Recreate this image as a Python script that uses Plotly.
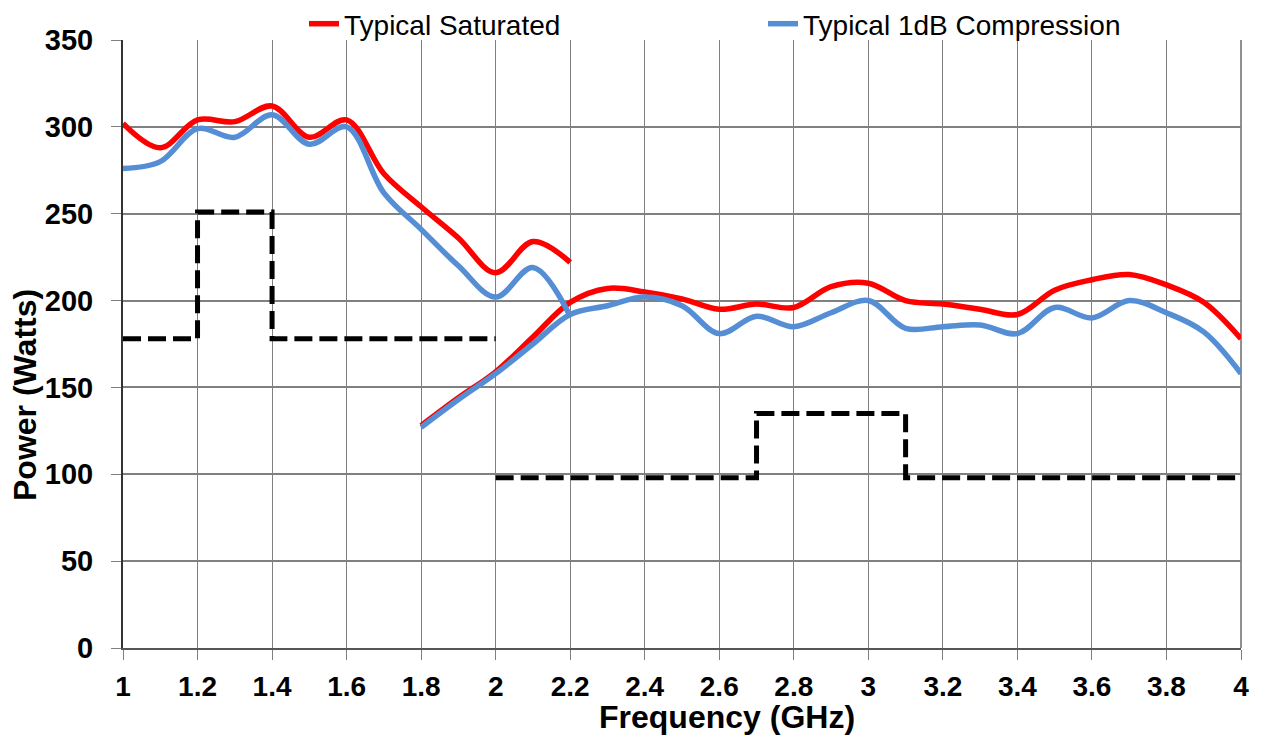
import plotly.graph_objects as go

# ---- data ----
sat_lo_f = [1.0, 1.1, 1.2, 1.3, 1.4, 1.5, 1.6, 1.7, 1.8, 1.9, 2.0, 2.1, 2.2]
sat_lo_w = [302, 288, 304, 303, 312, 294, 304, 273, 254, 236, 216, 234, 222]
sat_hi_f = [1.8, 1.9, 2.0, 2.1, 2.2, 2.3, 2.4, 2.5, 2.6, 2.7, 2.8, 2.9, 3.0,
            3.1, 3.2, 3.3, 3.4, 3.5, 3.6, 3.7, 3.8, 3.9, 4.0]
sat_hi_w = [128, 144, 159, 179, 199, 207, 205, 201, 195, 198, 196, 208, 210,
            200, 198, 195, 192, 206, 212, 215, 209, 199, 178]

p1_lo_f = [1.0, 1.1, 1.2, 1.3, 1.4, 1.5, 1.6, 1.7, 1.8, 1.9, 2.0, 2.1, 2.2]
p1_lo_w = [276, 280, 299, 294, 307, 290, 300, 262, 241, 220, 202, 219, 191]
p1_hi_f = [1.8, 1.9, 2.0, 2.1, 2.2, 2.3, 2.4, 2.5, 2.6, 2.7, 2.8, 2.9, 3.0,
           3.1, 3.2, 3.3, 3.4, 3.5, 3.6, 3.7, 3.8, 3.9, 4.0]
p1_hi_w = [127, 143, 158, 175, 192, 197, 202, 197, 181, 191, 185, 193, 200,
           184, 185, 186, 181, 196, 190, 200, 193, 182, 158]

spec_lo_f = [1.0, 1.2, 1.4, 2.0]
spec_lo_w = [178, 251, 178, 178]
spec_hi_f = [2.0, 2.7, 3.1, 4.0]
spec_hi_w = [98, 135, 98, 98]

x_ticks = [1, 1.2, 1.4, 1.6, 1.8, 2, 2.2, 2.4, 2.6, 2.8, 3, 3.2, 3.4, 3.6, 3.8, 4]
y_ticks = [0, 50, 100, 150, 200, 250, 300, 350]

FONT = "Liberation Sans, Arial, sans-serif"
# page body has an 8px margin, so the figure is sized to fit the window
W, H = 1253, 728
L, R, T, B = 115, 20, 32, 88
PW, PH = W - L - R, H - T - B

fig = go.Figure()

for fx, fy in [(spec_lo_f, spec_lo_w), (spec_hi_f, spec_hi_w)]:
    fig.add_trace(go.Scatter(
        x=fx, y=fy, mode="lines", line=dict(color="black", width=5, dash="18px,7px", shape="hv"),
        showlegend=False, hoverinfo="skip"))

fig.add_trace(go.Scatter(
    x=sat_lo_f + [None] + sat_hi_f, y=sat_lo_w + [None] + sat_hi_w,
    mode="lines", name="Typical Saturated", connectgaps=False,
    line=dict(color="#FF0000", width=5.5, shape="spline", smoothing=1.0)))
fig.add_trace(go.Scatter(
    x=p1_lo_f + [None] + p1_hi_f, y=p1_lo_w + [None] + p1_hi_w,
    mode="lines", name="Typical 1dB Compression", connectgaps=False,
    line=dict(color="#558ED5", width=5.5, shape="spline", smoothing=1.0)))

fig.update_layout(
    width=W, height=H, autosize=False,
    margin=dict(l=L, r=R, t=T, b=B, autoexpand=False),
    paper_bgcolor="white", plot_bgcolor="white",
    font=dict(family=FONT, color="black"),
    showlegend=True,
    legend=dict(orientation="h", xref="container", yref="container",
                x=296 / W, y=1 - 16 / H, xanchor="left", yanchor="middle",
                font=dict(size=28, family=FONT, color="black"),
                entrywidth=414, entrywidthmode="pixels",
                bgcolor="rgba(0,0,0,0)", itemwidth=30),
    xaxis=dict(range=[1, 4], tickmode="array", tickvals=x_ticks,
               ticktext=[f"{v:g}" for v in x_ticks],
               showgrid=True, gridcolor="#808080", gridwidth=1,
               ticks="outside", ticklen=10, tickcolor="#808080", tickwidth=1,
               showline=True, linecolor="#555555", linewidth=2, mirror=False,
               tickfont=dict(size=28, family=FONT, color="black", weight="bold"),
               ticklabelstandoff=2, automargin=False,
               zeroline=False, fixedrange=True),
    yaxis=dict(range=[0, 350], tickmode="array", tickvals=y_ticks,
               showgrid=True, gridcolor="#808080", gridwidth=1.5,
               ticks="outside", ticklen=10, tickcolor="#808080", tickwidth=1,
               showline=True, linecolor="#333333", linewidth=2,
               tickfont=dict(size=29, family=FONT, color="black", weight="bold"),
               ticklabelstandoff=12, automargin=False,
               zeroline=False, fixedrange=True),
    annotations=[
        dict(text="Frequency (GHz)", xref="paper", yref="paper",
             x=(719 - L) / PW, y=-(709 - (H - B)) / PH,
             xanchor="center", yanchor="middle", showarrow=False,
             font=dict(size=32, family=FONT, color="black", weight="bold")),
        dict(text="Power (Watts)", xref="paper", yref="paper",
             x=-(L - 17) / PW, y=(H - B - 387) / PH,
             xanchor="center", yanchor="middle", showarrow=False, textangle=-90,
             font=dict(size=32, family=FONT, color="black", weight="bold")),
    ],
)

# right border line of plot area
fig.add_shape(type="line", xref="paper", yref="paper", x0=1, x1=1, y0=0, y1=1,
              line=dict(color="#909090", width=2), layer="below")

fig.write_html("out.html")
